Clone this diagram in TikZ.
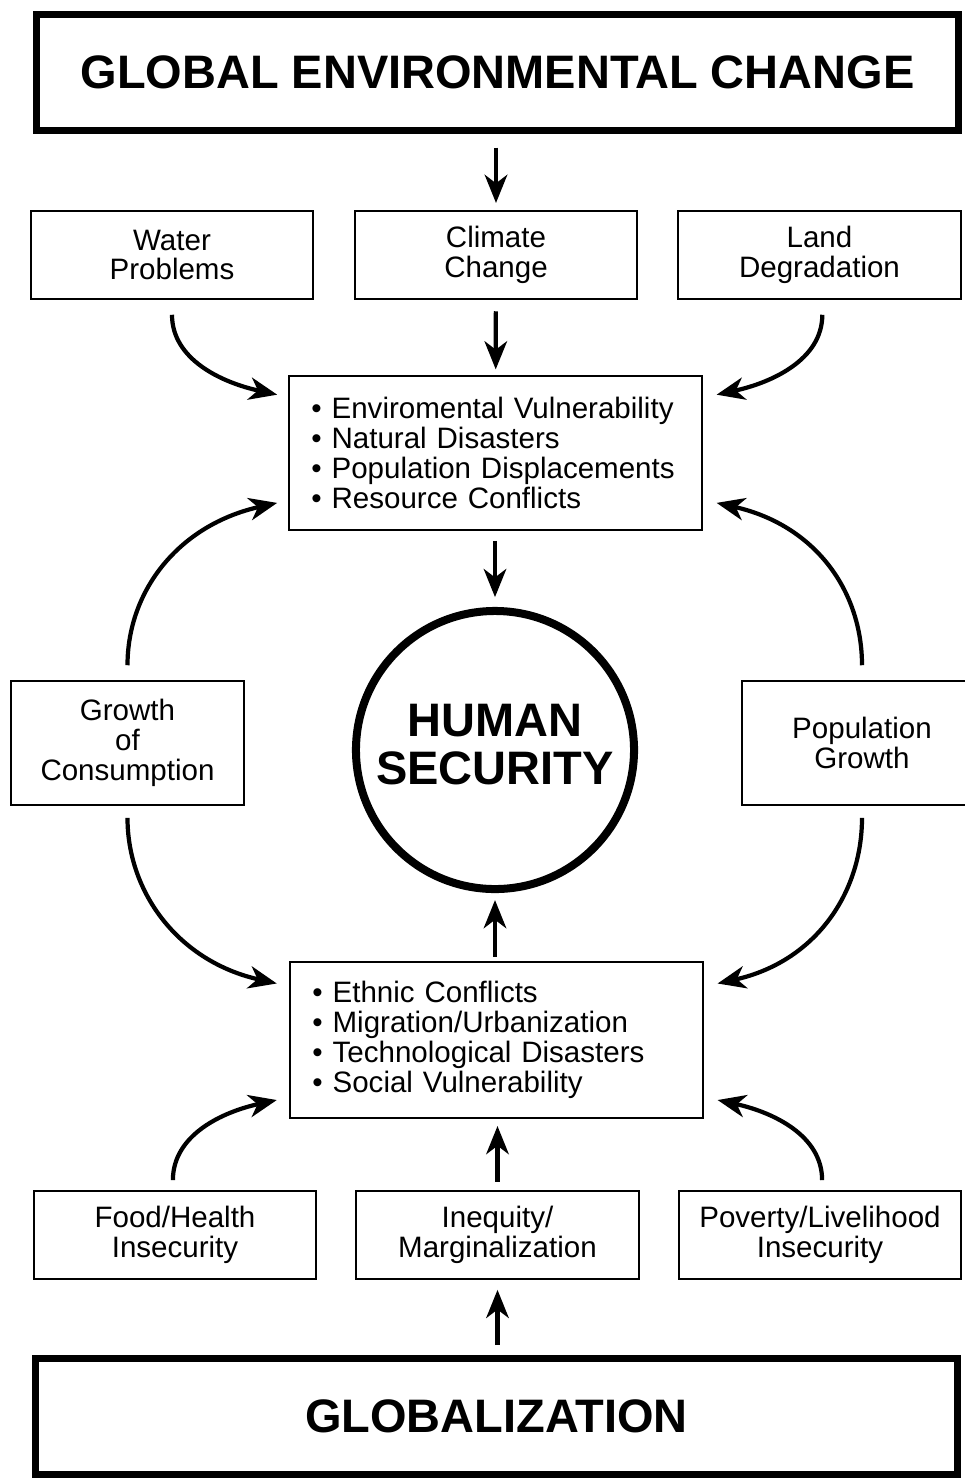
\documentclass[tikz,border=0pt]{standalone}
\usepackage{fontspec}
\setmainfont{Liberation Sans}
\usetikzlibrary{arrows.meta}

\tikzset{
  bigbox/.style={draw, line width=5pt, minimum width=23.05cm, minimum height=2.88cm,
    font=\fontsize{33.4}{34}\selectfont\bfseries},
  smallbox/.style={draw, line width=1.4pt, minimum width=7.05cm, minimum height=2.2cm,
    align=center, inner sep=0pt, font=\fontsize{21}{21.3}\selectfont},
  listbox/.style={smallbox, inner xsep=0.55cm, text width=9.2cm, minimum height=3.85cm, align=left},
  hsnode/.style={draw, circle, line width=5.7pt, minimum size=6.95cm, align=center,
    font=\fontsize{33.4}{34}\selectfont\bfseries},
  arr/.style={-{Stealth[length=20pt,width=16pt,inset=6pt]}, line width=3pt}
}

\begin{document}
\begin{tikzpicture}[x=0.025cm,y=-0.025cm]
  \useasboundingbox (0,0) rectangle (965,1481);

  % top and bottom frames
  \node[bigbox] (gec) at (497.5,72.5) {GLOBAL ENVIRONMENTAL CHANGE};
  \node[bigbox, minimum height=2.9cm] (glob) at (496.5,1416.5) {GLOBALIZATION};

  % upper row
  \node[smallbox] (water) at (172,255) {Water\\Problems};
  \node[smallbox] (climate) at (496,255) {Climate\\Change};
  \node[smallbox] (land) at (819.5,255) {Land\\Degradation};

  \node[listbox] (envlist) at (495.5,453) {\textbullet\ Enviromental Vulnerability\\
    \textbullet\ Natural Disasters\\ \textbullet\ Population Displacements\\
    \textbullet\ Resource Conflicts};

  % centre
  \node[hsnode] (hs) at (495,750) {HUMAN\\SECURITY\\[-26pt]\mbox{}};
  \node[smallbox, minimum width=5.825cm, minimum height=3.1cm] (growth) at (127.5,743)
    {Growth\\of\\Consumption};
  \node[smallbox, minimum width=6cm, minimum height=3.1cm] (pop) at (862,743)
    {Population\\Growth};

  \node[listbox, minimum height=3.9cm] (soclist) at (496.5,1040) {\textbullet\ Ethnic Conflicts\\
    \textbullet\ Migration/Urbanization\\ \textbullet\ Technological Disasters\\
    \textbullet\ Social Vulnerability};

  % lower row
  \node[smallbox] (food) at (175,1235) {Food/Health\\Insecurity};
  \node[smallbox] (inequity) at (497.5,1235) {Inequity/\\Marginalization};
  \node[smallbox] (poverty) at (820,1235) {Poverty/Livelihood\\Insecurity};

  % straight arrows
  \draw[arr, shorten <=10pt, shorten >=5pt] (gec.south -| climate) -- (climate);
  \draw[arr, shorten <=8pt, shorten >=4pt] (climate) -- (envlist);
  \draw[arr, shorten <=7pt, shorten >=7pt] (envlist.south -| hs) -- (hs);
  \draw[arr, shorten <=3pt, shorten >=5pt] (soclist.north -| hs) -- (hs);
  \draw[arr, shorten <=6pt, shorten >=5pt] (inequity) -- (soclist.south -| inequity);
  \draw[arr, shorten <=7pt, shorten >=7pt] (glob.north -| inequity) -- (inequity);

  % curved arrows
  \draw[arr] ([yshift=-10.5pt]water.south) .. controls +(0,45) and +(-55,-12) ..
    ([xshift=-8pt,yshift=-14pt]envlist.north west);
  \draw[arr] ([xshift=2pt,yshift=-10.5pt]land.south) .. controls +(0,45) and +(55,-12) ..
    ([xshift=10pt,yshift=-14pt]envlist.north east);
  \draw[arr] ([yshift=10.5pt]growth.north) .. controls +(0,-75) and +(-98,22) ..
    ([xshift=-8pt,yshift=20pt]envlist.south west);
  \draw[arr] ([yshift=10.5pt]pop.north) .. controls +(0,-75) and +(98,22) ..
    ([xshift=10pt,yshift=20pt]envlist.south east);
  \draw[arr] ([yshift=-8.5pt]growth.south) .. controls +(0,75) and +(-98,-22) ..
    ([xshift=-9pt,yshift=-16pt]soclist.north west);
  \draw[arr] ([yshift=-8.5pt]pop.south) .. controls +(0,75) and +(98,-22) ..
    ([xshift=10pt,yshift=-16pt]soclist.north east);
  \draw[arr] ([xshift=-1.5pt,yshift=7pt]food.north) .. controls +(0,-45) and +(-55,12) ..
    ([xshift=-9pt,yshift=13.5pt]soclist.south west);
  \draw[arr] ([xshift=1.5pt,yshift=7pt]poverty.north) .. controls +(0,-45) and +(55,12) ..
    ([xshift=10pt,yshift=13.5pt]soclist.south east);
\end{tikzpicture}
\end{document}
